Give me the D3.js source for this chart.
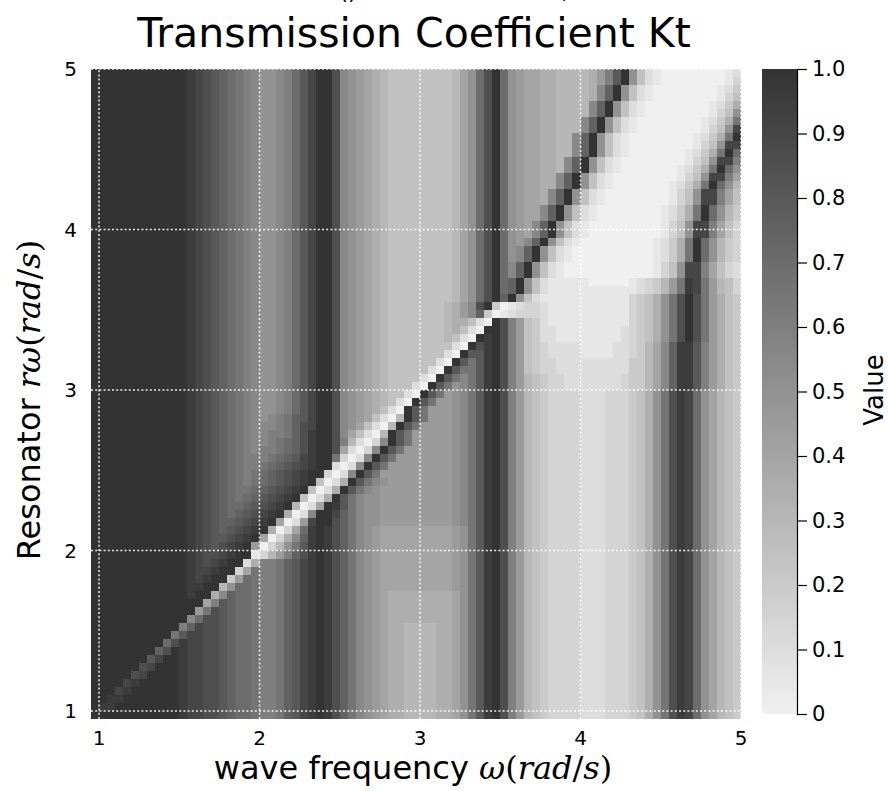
<!DOCTYPE html>
<html><head><meta charset="utf-8">
<script src="https://cdn.jsdelivr.net/npm/d3@7/dist/d3.min.js"></script>
<style>body{margin:0;background:#fff;} text{font-family:"DejaVu Sans",sans-serif;fill:#000;}</style>
</head><body><svg id="chart" width="888" height="791"></svg>
<script>
// ---- data ----
const omegaTicks = [1, 2, 3, 4, 5];
const rTicks = [1, 2, 3, 4, 5];
const cbTicks = [0, 0.1, 0.2, 0.3, 0.4, 0.5, 0.6, 0.7, 0.8, 0.9, 1.0];
const cbTickLabels = ["0", "0.1", "0.2", "0.3", "0.4", "0.5", "0.6", "0.7", "0.8", "0.9", "1.0"];
// Kt: 81 x 81 cells, omega 0.95..5.0 left->right,
// rows listed from r-omega = 5.0 (top) down to 0.95 (bottom).
// one character per cell, level index 0..20 -> Kt = index/20
const levelChars = "0123456789ABCDEFGHIJK";
const ktGrid = [
"KKKKKKKKKK KKJIHGFEDC BAABCEGIKK HBA9876555 5555568AE HKEA988776 66679CGKA5 2100000000 12",
"KKKKKKKKKK KKJIHGFEDC BAABCEGIKK HBA9876555 5555568AE HKEA988776 66679CGKA5 2100000000 13",
"KKKKKKKKKK KKJIHGFEDC BAABCEGIKK HBA9876555 5555568AE HKEA988776 6667BFKA52 1000000001 24",
"KKKKKKKKKK KKJIHGFEDC BAABCEGIKK HBA9876555 5555568AE HKEA988776 6667BFKA52 1000000001 35",
"KKKKKKKKKK KKJIHGFEDC BAABCEGIKK HBA9876555 5555568AE HKEA988776 666BFKA521 0000000012 47",
"KKKKKKKKKK KKJIHGFEDC BAABCEGIKK HBA9876555 5555568AE HKEA988776 666BFKA521 0000000013 5A",
"KKKKKKKKKK KKJIHGFEDC BAABCEGIKK HBA9876555 5555568AE HKEA988776 66BFKA5210 0000000124 7D",
"KKKKKKKKKK KKJIHGFEDC BAABCEGIKK HBA9876555 5555568AE HKEA988776 66BFKA5210 0000000135 AI",
"KKKKKKKKKK KKJIHGFEDC BAABCEGIKK HBA9876555 5555568AE HKEA988776 6BFKA52100 0000001247 DK",
"KKKKKKKKKK KKJIHGFEDC BAABCEGIKK HBA9876555 5555568AE HKEA988776 6BFKA52100 000000135A II",
"KKKKKKKKKK KKJIHGFEDC BAABCEGIKK HBA9876555 5555568AE HKEA988776 6BFKA52100 000001247D KE",
"KKKKKKKKKK KKJIHGFEDC BAABCEGIKK HBA9876555 5555568AE HKEA988776 BFKA521000 00000135AI IC",
"KKKKKKKKKK KKJIHGFEDC BAABCEGIKK HBA9876555 5555568AE HKEA988776 BFKA521000 00001247DK EA",
"KKKKKKKKKK KKJIHGFEDC BAABCEGIKK HBA9876555 5555568AE HKEA98877B FKA5210000 0000135AII C8",
"KKKKKKKKKK KKJIHGFEDC BAABCEGIKK HBA9876555 5555568AE HKEA98877B FKA5210000 0001247DKE A6",
"KKKKKKKKKK KKJIHGFEDC BAABCEGIKK HBA9876555 5555568AE HKEA9887BF KA52100000 000135AIIC 85",
"KKKKKKKKKK KKJIHGFEDC BAABCEGIKK HBA9876555 5555568AE HKEA9887BF KA52100000 000135AIIC 85",
"KKKKKKKKKK KKJIHGFEDC BAABCEGIKK HBA9876555 5555568AE HKEA988BFK A521000000 001247DKEA 64",
"KKKKKKKKKK KKJIHGFEDC BAABCEGIKK HBA9876555 5555568AE HKEA988BFK A521000000 001247DKEA 64",
"KKKKKKKKKK KKJIHGFEDC BAABCEGIKK HBA9876555 5555568AE HKEA98BFKA 5210000000 00135AIIC8 53",
"KKKKKKKKKK KKJIHGFEDC BAABCEGIKK HBA9876555 5555568AE HKEA98BFKA 5210000000 00135AIIC8 53",
"KKKKKKKKKK KKJIHGFEDC BAABCEGIKK HBA9876555 5555568AE HKEA9BFKA5 2100000000 01247DKEA6 43",
"KKKKKKKKKK KKJIHGFEDC BAABCEGIKK HBA9876555 5555568AE HKEABFKA52 1000000000 01247DKEA6 43",
"KKKKKKKKKK KKJIHGFEDC BAABCEGIKK HBA9876555 5555568AE HKEABFKA52 1000000000 01247DKEA6 43",
"KKKKKKKKKK KKJIHGFEDC BAABCEGIKK HBA9876555 5555568AE HKEBFKA521 0000000000 0135AIIC85 32",
"KKKKKKKKKK KKJIHGFEDC BAABCEGIKK HBA9876555 5555568AE HKEBFKA521 0000000000 0135AIIC85 32",
"KKKKKKKKKK KKJIHGFEDC BAABCEGIKK HBA9876555 5555568AE HKEFKA5211 1110000012 3469DJID96 53",
"KKKKKKKKKK KKJIHGFEDC BAABCEGIKK HBA9876555 5555568AE HKEFKA5211 1111111112 3469DJID96 53",
"KKKKKKKKKK KKJIHGFEDC BAABCEGIKK HBA9876555 5555568AE HKFKA52111 1111111134 57ADHKHD97 54",
"KKKKKKKKKK KKJIHGFEDC BAABCEGIKK HBA9876555 5555679BHK 4012332111 1111111345 7ADHKHD975 4",
"KKKKKKKKKK KKJIHGFEDC BAABCEGIKK HBA9876555 5555679BF4 0123332111 1111111345 7ADHKHD975 4",
"KKKKKKKKKK KKJIHGFEDC BAABCEGIKK HBA9876555 5555677520 KHC9542111 1111111345 7ADHKHD975 4",
"KKKKKKKKKK KKJIHGFEDC BAABCEGIKK HBA9876555 555567520K KHC9542211 1111112345 7ADHKHD975 4",
"KKKKKKKKKK KKJIHGFEDC BAABCEGIKK HBA9876555 55556520KJ KHC9542211 1111112345 7ADHKHD975 4",
"KKKKKKKKKK KKJIHGFEDC BAABCEGIKK HBA9876555 5555520KHJ KHC9543222 2111122346 8BFJJGC975 4",
"KKKKKKKKKK KKJIHGFEDC BAABCEGIKK HBA9876555 555520KGGJ KHC9543222 2111122346 8BFJJGC975 4",
"KKKKKKKKKK KKJIHGFEDC BAABCEGIKK HBA9876555 55520KGDGJ KHC9543322 2222222446 8BFJJGC975 4",
"KKKKKKKKKK KKJIHGFEDC BAABCEGIKK HBA9876555 5520KGDDGJ KHC9543322 2222222446 8BFJJGC975 4",
"KKKKKKKKKK KKJIHGFEDC BAABCEGIKK HBA9876555 520KGDBDGJ KHC9654332 2222223446 8BFJJGC975 4",
"KKKKKKKKKK KKJIHGFEDC BAABCEGIKK HBA9876555 20KGDABDGJ KHC9654332 2222223446 8BFJJGC975 4",
"KKKKKKKKKK KKJIHGFEDC BAABCEGIKK HBA9876552 0KGD9ABDGJ KHC9654333 3222333457 ADHJIEA865 4",
"KKKKKKKKKK KKJIHGFEDC BAABCEGIKK HBA9876520 KGD99ABDGJ KHC9654333 3222333457 ADHJIEA865 4",
"KKKKKKKKKK KKJIHGFEDC BAABCEGIKK HBA987520K GD999ABDGJ KHC9654333 3222333457 ADHJIEA865 4",
"KKKKKKKKKK KKJIHGFEDC BABCDFGIKK HBA985206K GD999ABDGJ KHC9654333 3222333457 ADHJIEA865 4",
"KKKKKKKKKK KKJIHGFEDC BBBCDFHIKK HBA85206KG D9999ABDGJ KHC9654333 3222333457 ADHJIEA865 4",
"KKKKKKKKKK KKJIHGFEDC BBCCDFHJKK HB85206KGD 99999ABDGJ KHC9654333 3222333457 ADHJIEA865 4",
"KKKKKKKKKK KKJIHGFEDC BBCDEFHJKK HC6203BKGD 99999ABDGJ KHC9654333 3222333457 ADHJIEA865 4",
"KKKKKKKKKK KKJIHGFEDC BCCDEFHJKK H8203BKGD9 99999ABDGJ KHC9654333 3222333457 ADHJIEA865 4",
"KKKKKKKKKK KKJIHGFEDC CCDEFGIJKK D302BKGD99 99999ABDGJ KHC9654333 3222333457 ADHJIEA865 4",
"KKKKKKKKKK KKJIHGFEDC CDEFGHIJKK 202BKGD999 99999ABDGJ KHC9654333 3222333457 ADHJIEA865 4",
"KKKKKKKKKK KKJIHGFEDC DEFGHIJKK3 02BKGD9999 99999ABDGJ KHC9654333 3222333457 ADHJIEA865 4",
"KKKKKKKKKK KKJIHGFEDC DEFGHIJK50 27KGDBA999 99999ABDGJ KHC9654333 3222333457 ADHJIEA865 4",
"KKKKKKKKKK KKJIHGFEDD EFGHIJK502 7KGDBA9999 99999ABDGJ KHC9654333 3222333457 ADHJIEA865 4",
"KKKKKKKKKK KKJIHGFEDE FGHIJK5027 KGDBAA9999 99999ABDGJ KHC9654333 3222333457 ADHJIEA865 4",
"KKKKKKKKKK KKJIHGFEEF GHIJK6028K JGDBAA9999 99999ABDGJ KHC9654333 3222333457 ADHJIEA865 4",
"KKKKKKKKKK KKJIHGFEFG HIJK702BKK IFDBAA9999 99999ABDGJ KHC9654333 3222333457 ADHJIEA865 4",
"KKKKKKKKKK KKJIHGFFGH IJK8029IKK HFDBAA9999 99999ABDGJ KHC9654333 3222333457 ADHJIEA865 4",
"KKKKKKKKKK KKJIHGFGHI JK7038EJKJ HFDBA98888 888889ADGJ KHC9654333 3222333457 ADHJIEA865 4",
"KKKKKKKKKK KKJIHGGHIJ K8037BFJKJ HFDBA98888 888889ADGJ KHC9654333 3222333457 ADHJIEA865 4",
"KKKKKKKKKK KKJIHGHIJK 9036ADGJKJ HFDBA98888 888889ADGJ KHC9654333 3222333457 ADHJIEA865 4",
"KKKKKKKKKK KKJIHHIJKK 1369CFHJKJ HFDBA98888 888889ADGJ KHC9654333 3222333457 ADHJIEA865 4",
"KKKKKKKKKK KKJIHIJKK2 7CCDFGIJKJ HFDBA98888 888889ADGJ KHC9654333 3222333457 ADHJIEA865 4",
"KKKKKKKKKK KKJIIJKK38 DCCDFGIJKJ HFDBA98888 888889ADGJ KHC9654333 3222333457 ADHJIEA865 4",
"KKKKKKKKKK KKJIJKK49E DCCDFGIJKJ HFDBA98888 888889ADGJ KHC9654333 3222333457 ADHJIEA865 4",
"KKKKKKKKKK KKJJKK6AEE DCCDFGIJKJ HFDBA98888 888889ADGJ KHC9654333 3222333457 ADHJIEA865 4",
"KKKKKKKKKK KKJKK7BFEE DCCDFGIJKJ HFDBA98777 777778ADGJ KHC9654333 3222333457 ADHJIEA865 4",
"KKKKKKKKKK KKKK8CGFEE DCCDFGIJKJ HFDBA98777 777778ADGJ KHC9654333 3222333457 ADHJIEA865 4",
"KKKKKKKKKK KKK9DHGFEE DCCDFGIJKJ HFDBA98777 777778ADGJ KHC9654333 3222333457 ADHJIEA865 4",
"KKKKKKKKKK KKBEHHGFEE DCCDFGIJKJ HFDBA98777 777778ADGJ KHC9654333 3222333457 ADHJIEA865 4",
"KKKKKKKKKK KCFIHHGFEE DCCDFGIJKJ HFDBA98776 666778ADGJ KHC9654333 3222333457 ADHJIEA865 4",
"KKKKKKKKKK DGIIHHGFEE DCCDFGIJKJ HFDBA98776 666778ADGJ KHC9654333 3222333457 ADHJIEA865 4",
"KKKKKKKKKE HJIIHHGFEE DCCDFGIJKJ HFDBA98776 666778ADGJ KHC9654333 3222333457 ADHJIEA865 4",
"KKKKKKKKFH KJIIHHGFEE DCCDFGIJKJ HFDBA98776 666778ADGJ KHC9654333 3222333457 ADHJIEA865 4",
"KKKKKKKGIK KJIIHHGFEE DCCDFGIJKJ HFDBA98776 666778ADGJ KHC9654333 3222333457 ADHJIEA865 4",
"KKKKKKHIKK KJIIHHGFEE DCCDFGIJKJ HFDBA98776 666778ADGJ KHC9654333 3222333457 ADHJIEA865 4",
"KKKKKHIKKK KJIIHHGFEE DCCDFGIJKJ HFDBA98776 666778ADGJ KHC9654333 3222333457 ADHJIEA865 4",
"KKKKIJKKKK KJIIHHGFEE DCCDFGIJKJ HFDBA98776 666778ADGJ KHC9654333 3222333457 ADHJIEA865 4",
"KKKIJKKKKK KJIIHHGFEE DCCDFGIJKJ HFDBA98776 666778ADGJ KHC9654333 3222333457 ADHJIEA865 4",
"KKJJKKKKKK KJIIHHGFEE DCCDFGIJKJ HFDBA98776 666778ADGJ KHC9654333 3222333457 ADHJIEA865 4",
"KJJKKKKKKK KJIIHHGFEE DCCDFGIJKJ HFDBA98776 666778ADGJ KHC9654333 3222333457 ADHJIEA865 4",
"KKKKKKKKKK KJIIHHGFEE DCCDFGIJKJ HFDBA98776 666778ADGJ KHC9654333 3222333457 ADHJIEA865 4"
];
const cellStart = 0.95, cellStep = 0.05;

// ---- drawing ----
const svg = d3.select("#chart");
svg.append("rect").attr("width", 888).attr("height", 791).attr("fill", "#fff");
const defs = svg.append("defs");

const nRows = ktGrid.length;
const grid = ktGrid.map(s => s.replace(/\s+/g, "").split("").map(c => levelChars.indexOf(c) / 20));
const nCols = grid[0].length;
const edgesX = d3.range(nCols + 1).map(k => cellStart + k * cellStep);
const edgesY = d3.range(nRows + 1).map(k => cellStart + k * cellStep);

const x = d3.scaleLinear().domain([edgesX[0], edgesX[nCols]]).range([91, 741]);
const y = d3.scaleLinear().domain([edgesY[0], edgesY[nRows]]).range([719, 69]);
const color = d3.scaleLinear().domain([0, 1]).range(["#f0f0f0", "#333333"]).interpolate(d3.interpolateRgb);

const cells = [];
grid.forEach((row, k) => {
  const i = nRows - 1 - k;
  row.forEach((v, j) => cells.push({ i, j, v }));
});

svg.append("g").attr("shape-rendering", "crispEdges")
  .selectAll("rect").data(cells).join("rect")
  .attr("x", d => x(edgesX[d.j]))
  .attr("y", d => y(edgesY[d.i + 1]))
  .attr("width", d => x(edgesX[d.j + 1]) - x(edgesX[d.j]))
  .attr("height", d => y(edgesY[d.i]) - y(edgesY[d.i + 1]))
  .attr("fill", d => color(d.v));

// grid lines (white dotted)
const gGrid = svg.append("g").attr("stroke", "#ffffff").attr("stroke-width", 1.5)
  .attr("stroke-dasharray", "2,2.2").attr("stroke-opacity", 0.9);
omegaTicks.forEach(t => gGrid.append("line").attr("x1", x(t)).attr("x2", x(t))
  .attr("y1", y.range()[0]).attr("y2", y.range()[1]));
rTicks.forEach(t => gGrid.append("line").attr("y1", y(t)).attr("y2", y(t))
  .attr("x1", x.range()[0]).attr("x2", x.range()[1]));

// tick labels
svg.append("g").selectAll("text").data(omegaTicks).join("text")
  .attr("x", d => x(d)).attr("y", 745).attr("text-anchor", "middle")
  .attr("font-size", 20).text(d => d);
svg.append("g").selectAll("text").data(rTicks).join("text")
  .attr("x", 77).attr("y", d => y(d)).attr("dy", "0.36em").attr("text-anchor", "end")
  .attr("font-size", 20).text(d => d);

// title
svg.append("text").attr("x", 414).attr("y", 47).attr("text-anchor", "middle")
  .attr("font-size", 41).text("Transmission Coefficient Kt");

// clipped super-title remnants at the very top (as in the reference)
svg.append("text").attr("x", 348).attr("y", -1).attr("text-anchor", "middle")
  .attr("font-size", 22).text("()");
svg.append("text").attr("x", 565).attr("y", -1).attr("text-anchor", "middle")
  .attr("font-size", 22).text(",");

// axis titles
const mathFont = "'DejaVu Serif',serif";
function addLabel(sel, plain, mathParts) {
  sel.append("tspan").text(plain);
  mathParts.forEach(([t, it]) => sel.append("tspan").attr("font-family", mathFont)
    .attr("font-style", it ? "italic" : "normal").text(t));
}
const xt = svg.append("text").attr("x", 413).attr("y", 779).attr("text-anchor", "middle").attr("font-size", 32);
addLabel(xt, "wave frequency ", [["ω", 1], ["(", 0], ["rad", 1], ["/", 0], ["s", 1], [")", 0]]);

const yt = svg.append("text").attr("transform", "translate(40,400) rotate(-90)")
  .attr("text-anchor", "middle").attr("font-size", 32);
addLabel(yt, "Resonator ", [["rω", 1], ["(", 0], ["rad", 1], ["/", 0], ["s", 1], [")", 0]]);

// colorbar
const cb = d3.scaleLinear().domain([0, 1]).range([714, 69]);
const grad = defs.append("linearGradient").attr("id", "cbgrad")
  .attr("x1", 0).attr("y1", 1).attr("x2", 0).attr("y2", 0);
d3.range(0, 1.0001, 0.1).forEach(t => grad.append("stop").attr("offset", t).attr("stop-color", color(t)));
svg.append("rect").attr("x", 762).attr("y", cb(1)).attr("width", 35).attr("height", cb(0) - cb(1))
  .attr("fill", "url(#cbgrad)");
const cbAxis = svg.append("g").attr("transform", "translate(797,0)")
  .call(d3.axisRight(cb).tickValues(cbTicks).tickFormat((d, i) => cbTickLabels[i]).tickSize(10).tickSizeOuter(0));
cbAxis.selectAll("text").attr("font-size", 21).attr("font-family", "DejaVu Sans").attr("x", 15).attr("fill", "#000");
cbAxis.selectAll("line,path").attr("stroke", "#000").attr("stroke-width", 1.2);
svg.append("text").attr("transform", "translate(883,390) rotate(-90)").attr("text-anchor", "middle")
  .attr("font-size", 26).text("Value");

// sanity
const bad = grid.map((r, k) => (r.length !== 81 || r.some(v => v < 0)) ? k : -1).filter(k => k >= 0);
if (bad.length || nRows !== 81) svg.append("text").attr("x", 5).attr("y", 785).attr("fill", "red").attr("font-size", 12).text("bad rows: " + bad.join(",") + " n=" + nRows);
</script></body></html>
